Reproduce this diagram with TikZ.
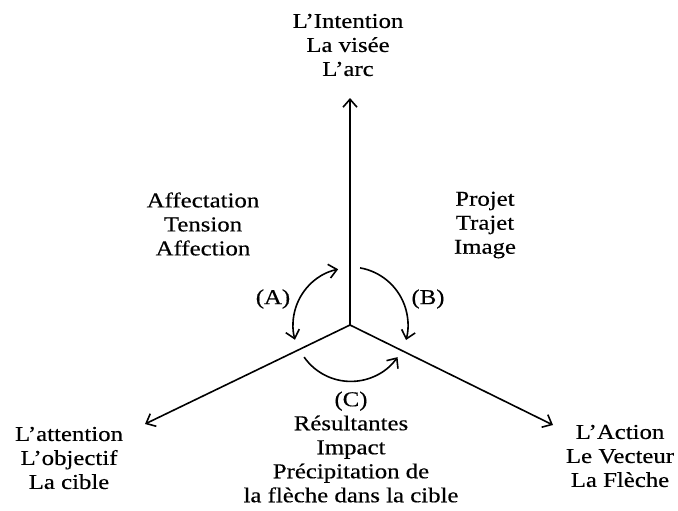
\documentclass[tikz,border=0pt]{standalone}
\usepackage{fontspec}
\setmainfont{Liberation Serif}[FakeStretch=1.17,FakeBold=0.4]
\usetikzlibrary{arrows.meta}

\begin{document}
\begin{tikzpicture}[x=0.5pt,y=0.5pt,>={Straight Barb[length=4pt,width=7pt]},
  txt/.style={align=center,font=\fontsize{10.6}{12}\selectfont},
  axe/.style={line width=0.8pt,->}]
\useasboundingbox (0,0) rectangle (678,510);
\coordinate (O) at (350,185);
\coordinate (I) at (350,412);
\coordinate (G) at (145,86);
\coordinate (D) at (553,85);
\node[txt] (intention) at (348,465) {L'Intention\\La visée\\L'arc};
\node[txt] (affect) at (203,286) {Affectation\\Tension\\Affection};
\node[txt] (projet) at (485,285) {Projet\\Trajet\\Image};
\node[txt] (attention) at (69,52) {L'attention\\L'objectif\\La cible};
\node[txt] (action) at (620,54) {L'Action\\Le Vecteur\\La Flèche};
\node[txt] (resultat) at (351,63) {(C)\\Résultantes\\Impact\\Précipitation de\\la flèche dans la cible};
\node[txt] (A) at (273,211) {(A)};
\node[txt] (B) at (428,211) {(B)};
\path [axe] (O) edge (I);
\path [axe] (O) edge (G);
\path [axe] (O) edge (D);
% les trois rotations
\draw [axe,<->] ([shift={(102:57)}]O) arc[start angle=102,end angle=195,radius=57];
\draw [axe] ([shift={(80:58)}]O) arc[start angle=80,end angle=-15,radius=58];
\draw [axe] ([shift={(215:56)}]O) arc[start angle=215,end angle=325,radius=57];
\end{tikzpicture}
\end{document}
